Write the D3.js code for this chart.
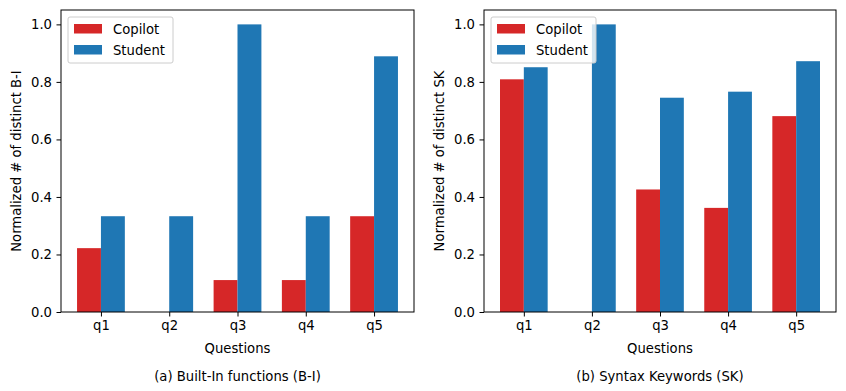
<!DOCTYPE html>
<html>
<head>
<meta charset="utf-8">
<script src="https://cdn.jsdelivr.net/npm/d3@7"></script>
<style>
  body { margin: 0; background: #fff; }
  text { font-family: "DejaVu Sans", sans-serif; fill: #000; }
</style>
</head>
<body>
<svg id="chart" width="846" height="391"></svg>
<script>
var questions = ["q1", "q2", "q3", "q4", "q5"];
var seriesNames = ["Copilot", "Student"];
var seriesColors = ["#d62728", "#1f77b4"];

// (a) built-in functions
var builtinCopilot = [0.222, 0, 0.111, 0.111, 0.333];
var builtinStudent = [0.333, 0.333, 1.0, 0.333, 0.889];
// (b) syntax keywords
var keywordCopilot = [0.809, 0, 0.426, 0.362, 0.681];
var keywordStudent = [0.851, 1.0, 0.745, 0.766, 0.872];

var yTicks = [0, 0.2, 0.4, 0.6, 0.8, 1.0];

var panels = [
    {left: 61, right: 414, ylabel: "Normalized # of distinct B-I",
     caption: "(a) Built-In functions (B-I)", series: [builtinCopilot, builtinStudent]},
    {left: 484, right: 836, ylabel: "Normalized # of distinct SK",
     caption: "(b) Syntax Keywords (SK)", series: [keywordCopilot, keywordStudent]}
];

var plotTop = 10, plotBottom = 312, barW = 0.35;
var fs = "13.2px";
var svg = d3.select("#chart");

panels.forEach(function (p) {
    var g = svg.append("g");
    var x = d3.scaleLinear().domain([-0.585, 4.585]).range([p.left, p.right]);
    var y = d3.scaleLinear().domain([0, 1.05]).range([plotBottom, plotTop]);

    p.series.forEach(function (vals, si) {
        g.selectAll(null).data(vals).enter().append("rect")
            .attr("x", function (d, i) { return x(i + (si - 1) * barW); })
            .attr("width", x(barW) - x(0))
            .attr("y", function (d) { return y(d); })
            .attr("height", function (d) { return y(0) - y(d); })
            .attr("fill", seriesColors[si]);
    });

    var xAxis = g.append("g").attr("transform", "translate(0," + plotBottom + ")")
        .call(d3.axisBottom(x).tickValues(d3.range(questions.length))
            .tickFormat(function (i) { return questions[i]; })
            .tickSize(4.5).tickPadding(4.5));
    var yAxis = g.append("g").attr("transform", "translate(" + p.left + ",0)")
        .call(d3.axisLeft(y).tickValues(yTicks).tickFormat(d3.format(".1f"))
            .tickSize(4.5).tickPadding(4.5));
    [xAxis, yAxis].forEach(function (a) {
        a.select(".domain").remove();
        a.selectAll("text").style("font-size", fs).style("font-family", "DejaVu Sans");
        a.selectAll("line").attr("stroke", "#000").attr("stroke-width", 1);
    });

    g.append("rect")
        .attr("x", p.left).attr("y", plotTop)
        .attr("width", p.right - p.left).attr("height", plotBottom - plotTop)
        .attr("fill", "none").attr("stroke", "#000").attr("stroke-width", 1);

    var cx = (p.left + p.right) / 2;
    g.append("text").attr("x", cx).attr("y", 353).attr("text-anchor", "middle")
        .style("font-size", fs).text("Questions");
    g.append("text").attr("x", cx).attr("y", 381).attr("text-anchor", "middle")
        .style("font-size", fs).text(p.caption);
    g.append("text")
        .attr("transform", "translate(" + (p.left - 40) + "," + ((plotTop + plotBottom) / 2) + ") rotate(-90)")
        .attr("text-anchor", "middle").style("font-size", fs).text(p.ylabel);

    // legend
    var lg = g.append("g").attr("transform", "translate(" + (p.left + 7) + ",17)");
    lg.append("rect").attr("width", 105).attr("height", 46).attr("rx", 2)
        .attr("fill", "#fff").attr("fill-opacity", 0.8)
        .attr("stroke", "#ccc").attr("stroke-width", 1);
    seriesNames.forEach(function (name, i) {
        lg.append("rect").attr("x", 6).attr("y", 7 + i * 21)
            .attr("width", 28).attr("height", 9.5).attr("fill", seriesColors[i]);
        lg.append("text").attr("x", 45).attr("y", 16.5 + i * 21)
            .style("font-size", fs).text(name);
    });
});
</script>
</body>
</html>
